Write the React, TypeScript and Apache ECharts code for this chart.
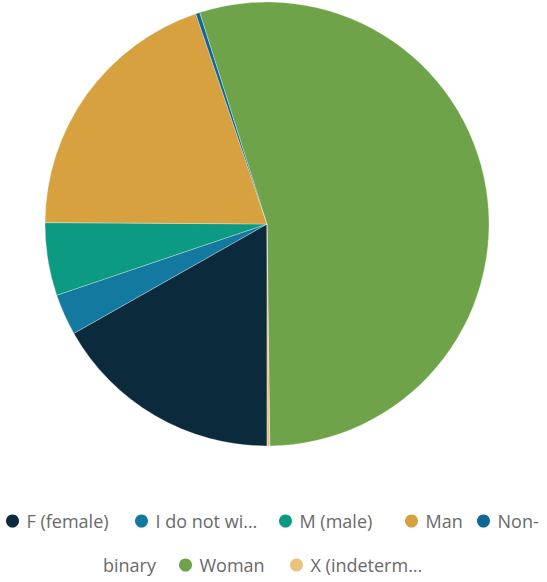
import React, { useEffect, useRef } from "react";
import * as echarts from "echarts";

const categories = [
  "F (female)",
  "I do not wish to disclose",
  "M (male)",
  "Man",
  "Non-binary",
  "Woman",
  "X (indeterminate/intersex/unspecified)",
];
const values = [168, 30, 53, 197, 3, 547, 2];
const colors = ["#0b2b3d", "#13799f", "#0d9a82", "#d7a13f", "#0f6894", "#6fa34a", "#e9c47f"];

// legend layout (icon centre x, row centre y) for each category
const legendX = [15, 144, 288, 414, 486, 188, 299];
const legendY = [521, 521, 521, 521, 521, 565, 565];
const wrapTextX = 103;

const shorten = (n: string) => (n.length > 13 ? n.slice(0, 11) + "…" : n);

export default function App() {
  const ref = useRef<HTMLDivElement>(null);
  useEffect(() => {
    if (!ref.current) return;
    const chart = echarts.init(ref.current, undefined, { renderer: "svg" });
    const nb = categories[4];
    const fontSize = 18;
    const legendText = { fontSize, color: "#6a6a6a", fontFamily: "Open Sans", lineHeight: 20 };
    chart.setOption({
      animation: false,
      color: colors,
      legend: categories.map((name, i) => ({
        data: [name],
        left: legendX[i] - 9,
        top: legendY[i] - 10,
        icon: "circle",
        itemWidth: 18,
        itemHeight: 13,
        padding: 0,
        textStyle: legendText,
        itemStyle: { borderWidth: 0 },
        formatter: (n: string) => (n === nb ? nb.split("-")[0] + "-" : shorten(n)),
      })),
      graphic: [
        {
          type: "text",
          x: wrapTextX,
          y: legendY[5],
          style: {
            text: nb.split("-")[1],
            fontSize,
            fill: "#6a6a6a",
            fontFamily: "Open Sans",
            verticalAlign: "middle",
          },
        },
      ],
      series: [
        {
          type: "pie",
          center: [267, 224],
          radius: 222,
          startAngle: 270,
          clockwise: true,
          label: { show: false },
          labelLine: { show: false },
          itemStyle: { borderColor: "#fff", borderWidth: 0.3 },
          data: categories.map((name, i) => ({ name, value: values[i] })),
        },
      ],
    });
    return () => chart.dispose();
  }, []);
  return (
    <div
      ref={ref}
      style={{ position: "fixed", left: 0, top: 0, width: 547, height: 582, background: "#fff" }}
    />
  );
}
